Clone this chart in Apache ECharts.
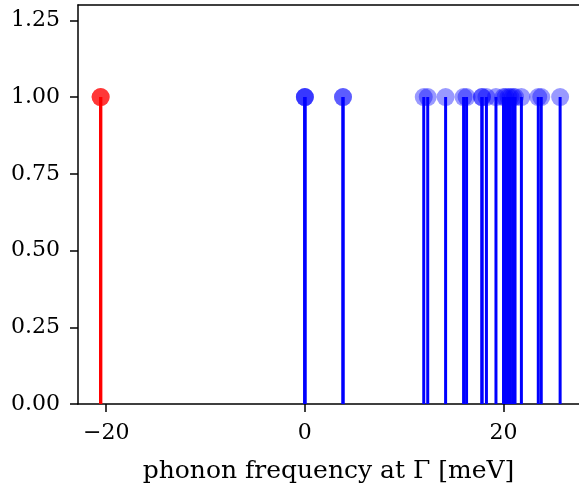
<!DOCTYPE html>
<html>
<head>
<meta charset="utf-8">
<script src="https://cdn.jsdelivr.net/npm/echarts@6/dist/echarts.min.js"></script>
<style>
  html, body { margin: 0; padding: 0; background: #fff; }
  #main { width: 579px; height: 492px; }
</style>
</head>
<body>
<div id="main"></div>
<script>
// phonon modes at Gamma (meV), degenerate modes listed more than once
var unstableModes = [-20.56, -20.56, -20.56];
var stableModes = [0, 0, 0, 3.84, 3.84, 11.97, 12.37, 14.17, 15.98, 16.28,
    17.83, 17.83, 18.28, 19.24, 20.0, 20.2, 20.5, 20.7, 20.96, 21.16,
    21.8, 23.5, 23.8, 25.7];
var xTicks = [-20, 0, 20];
var yTicks = [0, 0.25, 0.5, 0.75, 1.0, 1.25];

var myChart = echarts.init(document.getElementById('main'));

function toPoints(arr) {
    return arr.map(function (f) { return [f, 1]; });
}

// vertical stem from 0 up to the value
function renderStem(params, api) {
    var top = api.coord([api.value(0), api.value(1)]);
    var base = api.coord([api.value(0), 0]);
    return {
        type: 'line',
        shape: { x1: base[0], y1: base[1], x2: top[0], y2: top[1] },
        style: { stroke: api.visual('color'), lineWidth: 3 }
    };
}

var fontName = 'DejaVu Serif';
var xMin = -22.84, xMax = 27.6;

var option = {
    animation: false,
    textStyle: { fontFamily: fontName },
    grid: { left: 78, right: -3, top: 5, bottom: 88, containLabel: false },
    xAxis: [{
        type: 'value',
        min: xMin,
        max: xMax,
        name: 'phonon frequency at Γ [meV]',
        nameLocation: 'middle',
        nameGap: 55,
        nameTextStyle: { fontSize: 25, color: '#000', fontFamily: fontName },
        splitLine: { show: false },
        axisLine: { onZero: false, lineStyle: { color: '#000', width: 1.5 } },
        axisTick: { customValues: xTicks, length: 8, lineStyle: { color: '#000', width: 1.5 } },
        axisLabel: {
            customValues: xTicks,
            margin: 18,
            fontSize: 22,
            color: '#000',
            formatter: function (v) { return v < 0 ? '\u2212' + Math.abs(v) : String(v); }
        }
    }, {
        // top spine
        type: 'value',
        position: 'top',
        min: xMin,
        max: xMax,
        splitLine: { show: false },
        axisLine: { show: true, onZero: false, lineStyle: { color: '#000', width: 1.5 } },
        axisTick: { show: false },
        axisLabel: { show: false }
    }],
    yAxis: {
        type: 'value',
        min: 0,
        max: 1.3,
        splitLine: { show: false },
        axisLine: { show: true, onZero: false, lineStyle: { color: '#000', width: 1.5 } },
        axisTick: { show: true, customValues: yTicks, length: 8, lineStyle: { color: '#000', width: 1.5 } },
        axisLabel: {
            customValues: yTicks,
            margin: 18,
            fontSize: 22,
            color: '#000',
            formatter: function (v) { return v.toFixed(2); }
        }
    },
    series: [
        {
            type: 'custom',
            renderItem: renderStem,
            data: toPoints(unstableModes),
            itemStyle: { color: '#ff0000' },
            encode: { x: 0, y: 1 },
            z: 2
        },
        {
            type: 'custom',
            renderItem: renderStem,
            data: toPoints(stableModes),
            itemStyle: { color: '#0000ff' },
            encode: { x: 0, y: 1 },
            z: 2
        },
        {
            type: 'scatter',
            data: toPoints(unstableModes),
            symbolSize: 18,
            itemStyle: { color: '#ff0000', opacity: 0.4 },
            z: 3
        },
        {
            type: 'scatter',
            data: toPoints(stableModes),
            symbolSize: 18,
            itemStyle: { color: '#0000ff', opacity: 0.4 },
            z: 3
        }
    ]
};

myChart.setOption(option);
</script>
</body>
</html>
